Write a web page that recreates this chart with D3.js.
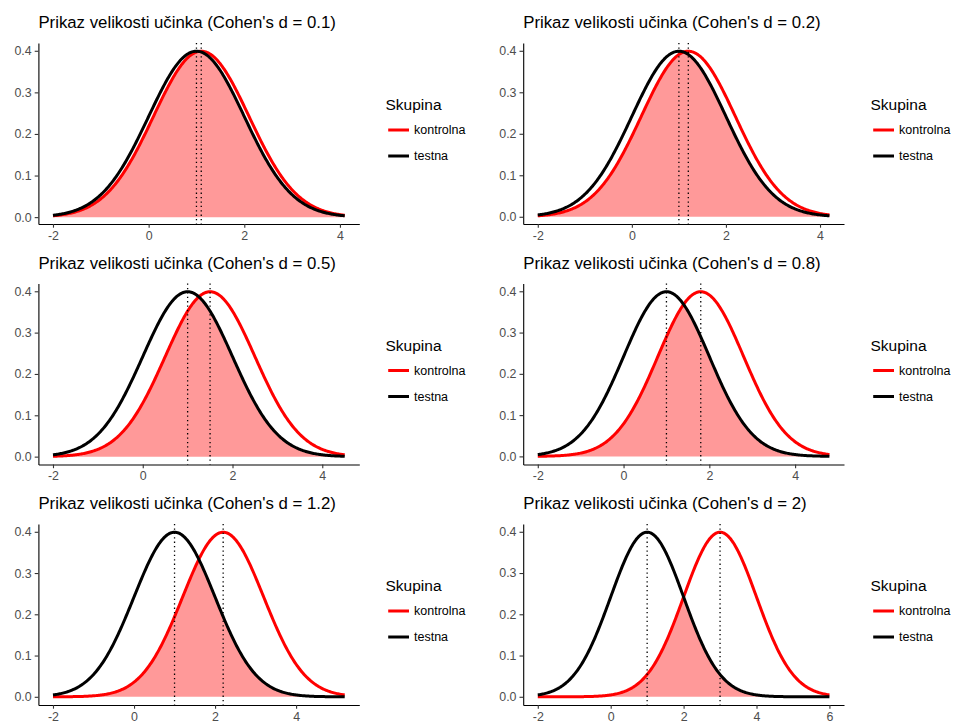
<!DOCTYPE html>
<html>
<head>
<meta charset="utf-8">
<script src="https://cdn.jsdelivr.net/npm/d3@7"></script>
<style>
  html, body { margin: 0; padding: 0; background: #ffffff; }
  svg { display: block; font-family: "Liberation Sans", Arial, Helvetica, sans-serif; }
</style>
</head>
<body>
<svg id="chart" width="955" height="724"></svg>
<script>
// Effect sizes shown, one panel each (row-major, two columns)
const cohensD = [0.1, 0.2, 0.5, 0.8, 1.2, 2];
// Test group: normal with mean 1, sd 1; control group shifted by d
const testMean = 1;
const groupSd = 1;
// Groups (legend order) and their colours
const groups = ["kontrolna", "testna"];
const groupColors = ["#ff0000", "#000000"];
const legendTitle = "Skupina";
const titlePrefix = "Prikaz velikosti učinka (Cohen's d = ";
// Tick labels
const xTickValues = [
  [-2, 0, 2, 4],
  [-2, 0, 2, 4],
  [-2, 0, 2, 4],
  [-2, 0, 2, 4],
  [-2, 0, 2, 4],
  [-2, 0, 2, 4, 6]
];
const yTickValues = [0.0, 0.1, 0.2, 0.3, 0.4];

const nSamples = 301;

function dnorm(x, mu, sd) {
  const z = (x - mu) / sd;
  return Math.exp(-0.5 * z * z) / (sd * Math.sqrt(2 * Math.PI));
}

const svg = d3.select("#chart");

// panel geometry
const colLeft = [38.4, 523.2];
const colRight = [359.3, 844.0];
const rowTop = [43, 283.5, 524];
const panelHeight = 181;
const legendX = [385.5, 870.5];

cohensD.forEach((d, i) => {
  const row = Math.floor(i / 2), col = i % 2;
  const left = colLeft[col], right = colRight[col];
  const top = rowTop[row], bottom = top + panelHeight;

  const ctrlMean = testMean + d;
  const xMin = testMean - 3 * groupSd;
  const xMax = ctrlMean + 3 * groupSd;
  const xs = d3.range(nSamples).map(k => xMin + (xMax - xMin) * k / (nSamples - 1));
  const pts = xs.map(x => ({
    x,
    ctrl: dnorm(x, ctrlMean, groupSd),
    test: dnorm(x, testMean, groupSd)
  }));
  const yMax = d3.max(pts, p => Math.max(p.ctrl, p.test));
  const yMin = d3.min(pts, p => Math.min(p.ctrl, p.test));

  const xPad = (xMax - xMin) * 0.05;
  const yPad = (yMax - yMin) * 0.05;
  const x = d3.scaleLinear().domain([xMin - xPad, xMax + xPad]).range([left, right]);
  const y = d3.scaleLinear().domain([yMin - yPad, yMax + yPad]).range([bottom, top]);

  const g = svg.append("g");

  // overlap region of the two densities
  g.append("path")
    .datum(pts)
    .attr("fill", "#ff0000")
    .attr("fill-opacity", 0.4)
    .attr("d", d3.area()
      .x(p => x(p.x))
      .y0(y(0))
      .y1(p => y(Math.min(p.ctrl, p.test))));

  // density curves
  const series = [p => p.ctrl, p => p.test];
  series.forEach((acc, s) => {
    g.append("path")
      .datum(pts)
      .attr("fill", "none")
      .attr("stroke", groupColors[s])
      .attr("stroke-width", 3)
      .attr("stroke-linejoin", "round")
      .attr("d", d3.line().x(p => x(p.x)).y(p => y(acc(p))));
  });

  // dotted lines at group means
  [testMean, ctrlMean].forEach(m => {
    g.append("line")
      .attr("x1", x(m)).attr("x2", x(m))
      .attr("y1", top).attr("y2", bottom)
      .attr("stroke", "#000")
      .attr("stroke-width", 1.3)
      .attr("stroke-dasharray", "1.3,3.1");
  });

  // axes
  const xAxis = d3.axisBottom(x).tickValues(xTickValues[i]).tickFormat(v => String(v))
    .tickSizeOuter(0).tickSizeInner(3.7).tickPadding(3);
  const yAxis = d3.axisLeft(y).tickValues(yTickValues).tickFormat(d3.format(".1f"))
    .tickSizeOuter(0).tickSizeInner(3.7).tickPadding(3);

  const gx = g.append("g").attr("transform", `translate(0,${bottom})`).call(xAxis);
  const gy = g.append("g").attr("transform", `translate(${left},0)`).call(yAxis);
  [gx, gy].forEach(a => {
    a.attr("font-family", null).attr("font-size", null);
    a.select(".domain").attr("stroke", "#000").attr("stroke-width", 1.1);
    a.selectAll(".tick line").attr("stroke", "#333333").attr("stroke-width", 1.1);
    a.selectAll(".tick text").attr("fill", "#4d4d4d").style("font-size", "12.4px");
  });

  // title
  g.append("text")
    .attr("x", left)
    .attr("y", top - 14.7)
    .attr("fill", "#000")
    .style("font-size", "16.8px")
    .text(titlePrefix + d + ")");

  // legend
  const lx = legendX[col];
  const ly = top + 67;
  const lg = g.append("g");
  lg.append("text")
    .attr("x", lx).attr("y", ly)
    .style("font-size", "15.5px")
    .attr("fill", "#000")
    .text(legendTitle);
  groups.forEach((name, s) => {
    const cy = ly + 20 + 26 * s;
    lg.append("line")
      .attr("x1", lx + 2.7).attr("x2", lx + 23.5)
      .attr("y1", cy).attr("y2", cy)
      .attr("stroke", groupColors[s])
      .attr("stroke-width", 3);
    lg.append("text")
      .attr("x", lx + 28.5).attr("y", cy + 4.3)
      .style("font-size", "12.5px")
      .attr("fill", "#000")
      .text(name);
  });
});
</script>
</body>
</html>
